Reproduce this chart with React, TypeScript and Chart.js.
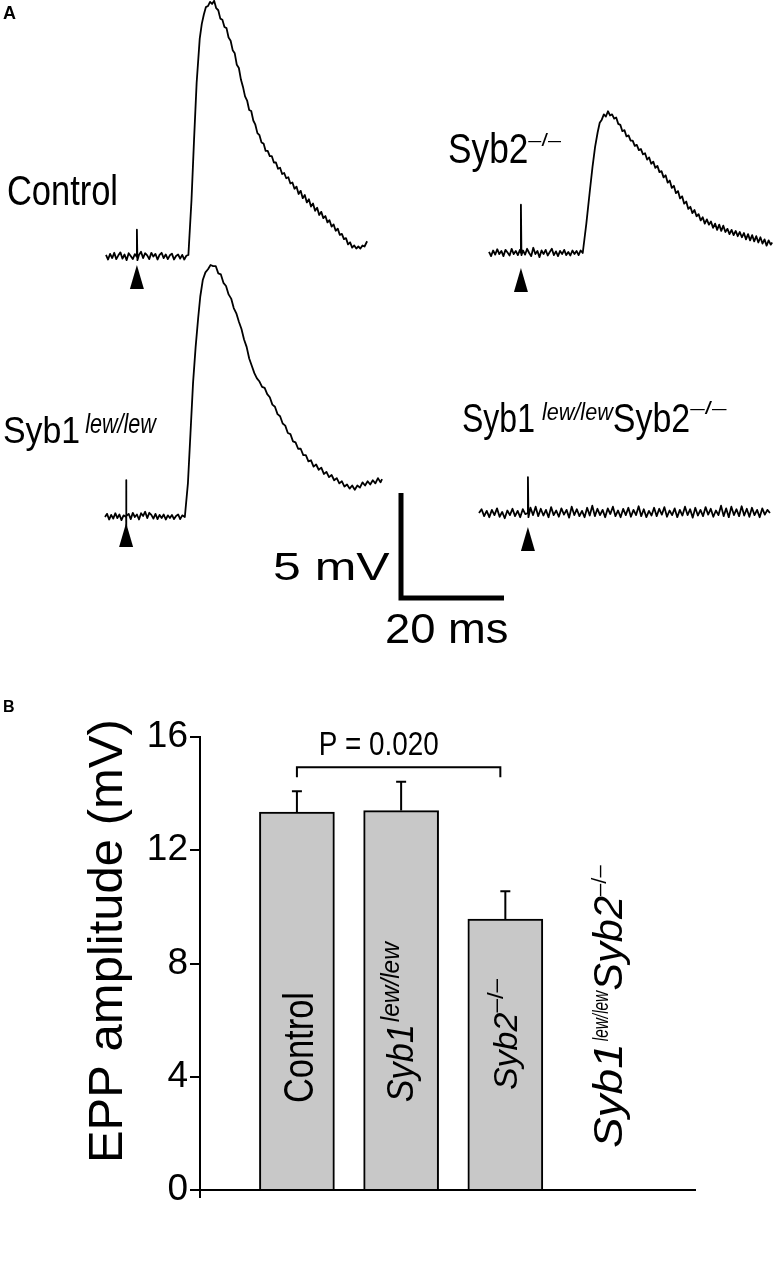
import React, { useEffect, useRef } from 'react';
import { Chart, registerables } from 'chart.js';

Chart.register(...registerables);

const FONT = '"Liberation Sans", Arial, Helvetica, sans-serif';

// ---------------- Panel A data: representative EPP traces (ms, mV) ----------------
const CONTROL_T = [0, 0.4, 0.8, 1.2, 1.6, 2.0, 2.4, 2.8, 3.2, 3.6, 4.0, 4.4, 4.8, 5.2, 5.6, 6.0, 6.0, 6.1, 6.4, 6.8, 7.2, 7.6, 8.0, 8.4, 8.8, 9.2, 9.6, 10.0, 10.4, 10.8, 11.2, 11.6, 12.0, 12.4, 12.8, 13.2, 13.6, 14.0, 14.4, 14.8, 15.2, 15.6, 16.0,
  16.6, 17.1, 17.6, 18.2, 18.6, 19.0, 19.4, 19.8, 20.2, 20.6, 21.0, 21.4, 21.8, 22.2, 22.6, 23.0, 23.4, 23.8, 24.2, 24.6, 25.0, 25.4, 25.8, 26.2, 26.6, 27.0, 27.4, 27.8, 28.2, 28.6, 29.0, 29.4, 29.8, 30.2, 30.6, 31.0, 31.4, 31.8, 32.2, 32.6, 33.0, 33.4, 33.8, 34.2, 34.6, 35.0, 35.4, 35.8, 36.2, 36.6, 37.0, 37.4, 37.8, 38.2, 38.6, 39.0, 39.4, 39.8, 40.2, 40.6, 41.0, 41.4, 41.8, 42.2, 42.6, 43.0, 43.4, 43.8, 44.2, 44.6, 45.0, 45.4, 45.8, 46.2, 46.6, 47.0, 47.4, 47.8, 48.2, 48.6, 49.0, 49.4, 49.8, 50.2, 50.7];
const CONTROL_V = [0.10, -0.12, 0.15, -0.05, 0.20, -0.10, 0.08, 0.22, -0.08, 0.12, -0.15, 0.18, 0.05, -0.10, 0.14, 0.00, 1.30, -0.15, 0.10, 0.25, -0.05, 0.18, 0.08, -0.10, 0.20, 0.02, 0.15, -0.12, 0.10, 0.20, -0.05, 0.12, -0.10, 0.08, 0.16, -0.12, 0.05, 0.12, -0.08, 0.10, -0.12, 0.06, 0.10,
  2.7, 5.6, 8.3, 10.4, 11.1, 11.55, 11.9, 11.95, 12.15, 12.05, 12.2, 11.85, 11.75, 11.35, 11.3, 10.95, 10.9, 10.45, 10.3, 9.85, 9.7, 9.15, 9.0, 8.45, 8.1, 7.65, 7.45, 7.0, 6.95, 6.5, 6.3, 5.9, 5.8, 5.45, 5.4, 5.05, 5.05, 4.8, 4.8, 4.5, 4.5, 4.2, 4.25, 3.95, 4.0, 3.75, 3.8, 3.5, 3.55, 3.25, 3.35, 3.0, 3.15, 2.8, 2.95, 2.6, 2.75, 2.4, 2.55, 2.2, 2.35, 2.0, 2.15, 1.85, 1.95, 1.65, 1.75, 1.45, 1.55, 1.25, 1.35, 1.05, 1.1, 0.85, 0.9, 0.6, 0.7, 0.45, 0.55, 0.4, 0.5, 0.4, 0.55, 0.5, 0.75];

const SYB2_T = [0, 0.4, 0.8, 1.2, 1.6, 2.0, 2.4, 2.8, 3.2, 3.6, 4.0, 4.4, 4.8, 5.2, 5.6, 6.0, 6.2, 6.2, 6.3, 6.6, 7.0, 7.4, 7.8, 8.2, 8.6, 9.0, 9.4, 9.8, 10.2, 10.6, 11.0, 11.4, 11.8, 12.2, 12.6, 13.0, 13.4, 13.8, 14.2, 14.6, 15.0, 15.4, 15.8, 16.2, 16.6, 17.0, 17.4, 17.8, 18.2,
  18.9, 19.6, 20.1, 20.6, 21.1, 21.5, 21.9, 22.3, 22.7, 23.1, 23.5, 23.9, 24.3, 24.7, 25.1, 25.5, 25.9, 26.3, 26.7, 27.1, 27.5, 27.9, 28.3, 28.7, 29.1, 29.5, 29.9, 30.3, 30.7, 31.1, 31.5, 31.9, 32.3, 32.7, 33.1, 33.5, 33.9, 34.3, 34.7, 35.1, 35.5, 35.9, 36.3, 36.7, 37.1, 37.5, 37.9, 38.3, 38.7, 39.1, 39.5, 39.9, 40.3, 40.7, 41.1, 41.5, 41.9, 42.3, 42.7, 43.1, 43.5, 43.9, 44.3, 44.7, 45.1, 45.5, 45.9, 46.3, 46.7, 47.1, 47.5, 47.9, 48.3, 48.7, 49.1, 49.5, 49.9, 50.3, 50.7, 51.1, 51.5, 51.9, 52.3, 52.7, 53.1, 53.5, 53.9, 54.3, 54.7, 55.0];
const SYB2_V = [0.05, -0.15, 0.12, -0.08, 0.18, -0.05, 0.10, -0.15, 0.15, 0.02, -0.12, 0.20, -0.05, 0.10, -0.10, 0.15, 0.0, 2.3, -0.1, 0.12, -0.08, 0.2, 0.0, -0.15, 0.25, -0.05, 0.1, -0.2, 0.12, -0.05, 0.15, -0.12, 0.05, 0.2, -0.1, 0.08, -0.15, 0.1, -0.05, 0.15, -0.1, 0.05, -0.12, 0.12, -0.05, 0.1, -0.1, 0.12, 0.0,
  1.4, 3.0, 4.1, 5.05, 5.75, 6.2, 6.35, 6.6, 6.5, 6.75, 6.55, 6.6, 6.4, 6.45, 6.15, 6.1, 5.8, 5.85, 5.55, 5.6, 5.35, 5.35, 5.1, 5.15, 4.9, 4.95, 4.7, 4.75, 4.45, 4.55, 4.25, 4.35, 4.05, 4.15, 3.85, 3.9, 3.6, 3.7, 3.35, 3.45, 3.1, 3.2, 2.85, 2.95, 2.6, 2.7, 2.35, 2.45, 2.1, 2.2, 1.9, 2.05, 1.75, 1.85, 1.55, 1.7, 1.4, 1.6, 1.35, 1.5, 1.2, 1.4, 1.1, 1.35, 1.05, 1.3, 1.0, 1.15, 0.9, 1.1, 0.85, 1.05, 0.8, 1.0, 0.75, 0.95, 0.65, 0.9, 0.6, 0.85, 0.55, 0.8, 0.5, 0.75, 0.45, 0.65, 0.35, 0.6, 0.4, 0.5];

const SYB1_T = [0, 0.4, 0.8, 1.2, 1.6, 2.0, 2.4, 2.8, 3.2, 3.6, 4.1, 4.1, 4.1, 4.2, 4.6, 5.0, 5.4, 5.8, 6.2, 6.6, 7.0, 7.4, 7.8, 8.2, 8.6, 9.0, 9.4, 9.8, 10.2, 10.6, 11.0, 11.4, 11.8, 12.2, 12.6, 13.0, 13.4, 13.8, 14.2, 14.6, 15.0, 15.5,
  16.1, 16.6, 17.1, 17.6, 18.1, 18.5, 19.0, 19.5, 20.0, 20.5, 21.0, 21.5, 22.0, 22.5, 23.0, 23.5, 24.0, 24.5, 25.0, 25.5, 26.0, 26.5, 27.0, 27.5, 28.0, 28.5, 29.0, 29.5, 30.0, 30.5, 31.0, 31.5, 32.0, 32.5, 33.0, 33.5, 34.0, 34.5, 35.0, 35.5, 36.0, 36.5, 37.0, 37.5, 38.0, 38.5, 39.0, 39.5, 40.0, 40.5, 41.0, 41.5, 42.0, 42.5, 43.0, 43.5, 44.0, 44.5, 45.0, 45.5, 46.0, 46.5, 47.0, 47.5, 48.0, 48.5, 49.0, 49.5, 50.0, 50.5, 51.0, 51.5, 52.0, 52.5, 53.0, 53.5, 53.8];
const SYB1_V = [0.0, 0.15, -0.12, 0.1, -0.08, 0.18, -0.05, 0.12, -0.15, 0.08, 0.0, 1.76, -0.48, 0.05, 0.15, -0.1, 0.2, 0.0, 0.12, -0.12, 0.18, 0.05, 0.25, -0.05, 0.2, 0.1, -0.08, 0.15, -0.1, 0.1, -0.05, 0.12, -0.12, 0.08, -0.05, 0.1, -0.1, 0.05, 0.12, -0.1, 0.08, 0.0,
  1.6, 4.0, 6.4, 8.1, 9.5, 10.5, 11.3, 11.65, 11.8, 12.0, 11.95, 11.95, 11.6, 11.55, 11.15, 11.0, 10.6, 10.4, 9.95, 9.7, 9.3, 8.95, 8.45, 8.1, 7.55, 7.2, 6.85, 6.6, 6.45, 6.2, 6.15, 5.85, 5.7, 5.35, 5.25, 4.9, 4.8, 4.45, 4.35, 4.0, 3.95, 3.6, 3.55, 3.25, 3.25, 2.95, 2.95, 2.65, 2.7, 2.4, 2.5, 2.25, 2.35, 2.05, 2.15, 1.9, 2.0, 1.75, 1.85, 1.6, 1.7, 1.45, 1.55, 1.35, 1.5, 1.3, 1.5, 1.4, 1.65, 1.5, 1.7, 1.55, 1.75, 1.6, 1.85, 1.65, 1.8];

const DKO_T = [0, 0.5, 1.0, 1.5, 2.0, 2.5, 3.0, 3.5, 4.0, 4.5, 5.0, 5.5, 6.0, 6.5, 7.0, 7.5, 8.0, 8.5, 9.0, 9.5, 9.5, 9.6, 10.0, 10.5, 11.0, 11.5, 12.0, 12.5, 13.0, 13.5, 14.0, 14.5, 15.0, 15.5, 16.0, 16.5, 17.0, 17.5, 18.0, 18.5, 19.0, 19.5, 20.0, 20.5, 21.0, 21.5, 22.0, 22.5, 23.0, 23.5, 24.0, 24.5, 25.0, 25.5, 26.0, 26.5, 27.0, 27.5, 28.0, 28.5, 29.0, 29.5, 30.0, 30.5, 31.0, 31.5, 32.0, 32.5, 33.0, 33.5, 34.0, 34.5, 35.0, 35.5, 36.0, 36.5, 37.0, 37.5, 38.0, 38.5, 39.0, 39.5, 40.0, 40.5, 41.0, 41.5, 42.0, 42.5, 43.0, 43.5, 44.0, 44.5, 45.0, 45.5, 46.0, 46.5, 47.0, 47.5, 48.0, 48.5, 49.0, 49.5, 50.0, 50.5, 51.0, 51.5, 52.0, 52.5, 53.0, 53.5, 54.0, 54.5, 55.0, 55.5, 56.0, 56.5];
const DKO_V = [0.0, 0.18, -0.15, 0.1, -0.2, 0.15, -0.1, 0.22, -0.18, 0.05, -0.25, 0.12, -0.1, 0.2, -0.15, 0.1, -0.2, 0.18, -0.05, 0.0, 1.71, -0.2, 0.25, -0.1, 0.3, -0.15, 0.2, -0.12, 0.15, -0.2, 0.28, -0.1, 0.12, -0.18, 0.22, -0.08, 0.15, -0.22, 0.3, -0.1, 0.18, -0.15, 0.1, -0.2, 0.25, -0.12, 0.35, -0.15, 0.2, -0.1, 0.15, -0.2, 0.22, -0.05, 0.3, -0.15, 0.12, -0.2, 0.2, -0.1, 0.25, -0.18, 0.15, -0.1, 0.32, -0.15, 0.18, -0.2, 0.1, -0.12, 0.25, -0.15, 0.2, -0.08, 0.28, -0.18, 0.12, -0.1, 0.22, -0.2, 0.15, -0.12, 0.3, -0.1, 0.18, -0.22, 0.25, -0.12, 0.15, -0.15, 0.28, -0.08, 0.2, -0.18, 0.12, -0.1, 0.35, -0.15, 0.22, -0.2, 0.3, -0.1, 0.18, -0.15, 0.32, -0.12, 0.2, -0.18, 0.25, -0.1, 0.15, -0.2, 0.22, -0.08, 0.15, 0.0];

// stimulus (arrowhead) times, ms, in trace order: Control, Syb2-/-, Syb1 lew/lew, DKO
const STIM_TIMES = [6.0, 6.2, 4.1, 9.5];
const SCALE_BAR_MV = 5;
const SCALE_BAR_MS = 20;

// ---------------- Panel B data ----------------
const GROUPS = ['Control', 'Syb1 lew/lew', 'Syb2 –/–', 'Syb1 lew/lew Syb2 –/–'];
const EPP_MEAN = [13.35, 13.4, 9.57, 0];
const EPP_SEM = [0.73, 1.02, 0.98, 0];
const Y_TICKS = [0, 4, 8, 12, 16];
const Y_TITLE = 'EPP amplitude (mV)';
const P_LABEL = 'P = 0.020';
const P_PAIR = [0, 2];

// ---------------- layout / style ----------------
const PX_PER_MS = 5.15;
const PX_PER_MV = 21;
const A_W = 775;
const A_H = 660;
const TRACE_LAYOUT = [
  { ox: 106, oy: 257, arrow: 8 },
  { ox: 489, oy: 253, arrow: 15 },
  { ox: 105, oy: 517, arrow: 6 },
  { ox: 479, oy: 513, arrow: 14 },
];
const SCALE_BAR_ORIGIN = { ox: 401, oy: 598 };

type Run = { text: string; size: number; italic?: boolean; bold?: boolean; rise?: number; sx?: number; gap?: number };

function drawRuns(ctx: CanvasRenderingContext2D, x: number, y: number, runs: Run[], angle = 0) {
  ctx.save();
  ctx.translate(x, y);
  if (angle) ctx.rotate(angle);
  ctx.fillStyle = '#000';
  ctx.textBaseline = 'alphabetic';
  ctx.textAlign = 'left';
  let cx = 0;
  for (const r of runs) {
    const sx = r.sx ?? 1;
    const gap = r.gap ?? 0;
    ctx.font = `${r.italic ? 'italic ' : ''}${r.bold ? 'bold ' : ''}${r.size}px ${FONT}`;
    ctx.save();
    ctx.translate(cx + gap, -(r.rise ?? 0));
    ctx.scale(sx, 1);
    ctx.fillText(r.text, 0, 0);
    ctx.restore();
    cx += gap + ctx.measureText(r.text).width * sx;
  }
  ctx.restore();
}

const panelAPlugin = {
  id: 'panelAText',
  afterDatasetsDraw(chart: any) {
    const ctx: CanvasRenderingContext2D = chart.ctx;
    // arrowheads marking the stimulus
    STIM_TIMES.forEach((t, k) => {
      const px = chart.scales['x' + k].getPixelForValue(t);
      const py = chart.scales['y' + k].getPixelForValue(0) + TRACE_LAYOUT[k].arrow;
      ctx.save();
      ctx.fillStyle = '#000';
      ctx.beginPath();
      ctx.moveTo(px, py);
      ctx.lineTo(px - 7, py + 24);
      ctx.lineTo(px + 7, py + 24);
      ctx.closePath();
      ctx.fill();
      ctx.restore();
    });
    drawRuns(ctx, 3, 19, [{ text: 'A', size: 18, bold: true }]);
    drawRuns(ctx, 7, 205, [{ text: 'Control', size: 42, sx: 0.82 }]);
    drawRuns(ctx, 448, 163, [
      { text: 'Syb2', size: 43, sx: 0.82 },
      { text: '–/–', size: 18, sx: 1.3, rise: 17 },
    ]);
    drawRuns(ctx, 3, 443, [
      { text: 'Syb1', size: 36, sx: 0.94 },
      { text: 'lew/lew', size: 27, italic: true, sx: 0.8, rise: 10, gap: 5 },
    ]);
    drawRuns(ctx, 462, 432, [
      { text: 'Syb1', size: 40, sx: 0.8 },
      { text: 'lew/lew', size: 24, italic: true, sx: 0.9, rise: 12, gap: 7 },
      { text: 'Syb2', size: 40, sx: 0.85 },
      { text: '–/–', size: 18, sx: 1.45, rise: 18 },
    ]);
    drawRuns(ctx, 273, 580, [{ text: `${SCALE_BAR_MV} mV`, size: 39, sx: 1.28 }]);
    drawRuns(ctx, 385, 643, [{ text: `${SCALE_BAR_MS} ms`, size: 42, sx: 1.08 }]);
  },
};

const BAR_LABELS: { start: number; dx: number; runs: Run[] }[] = [
  { start: 3.07, dx: 16, runs: [{ text: 'Control', size: 42, sx: 0.82 }] },
  { start: 3.1, dx: 12, runs: [
    { text: 'Syb1', size: 36, italic: true, sx: 0.95 },
    { text: 'lew/lew', size: 26, italic: true, sx: 0.94, rise: 14, gap: 2 },
  ] },
  { start: 3.53, dx: 12, runs: [
    { text: 'Syb2', size: 34, italic: true },
    { text: '–/–', size: 22, sx: 1.1, rise: 14 },
  ] },
  { start: 1.48, dx: 12, runs: [
    { text: 'Syb1', size: 40, italic: true, sx: 1.15 },
    { text: 'lew/lew', size: 22, italic: true, sx: 0.7, rise: 14, gap: 2 },
    { text: 'Syb2', size: 40, italic: true, sx: 1.04 },
    { text: '–/–', size: 20, sx: 1.1, rise: 16 },
  ] },
];

const panelBPlugin = {
  id: 'panelBExtras',
  afterDatasetsDraw(chart: any) {
    const ctx: CanvasRenderingContext2D = chart.ctx;
    const x = chart.scales.x;
    const y = chart.scales.y;
    ctx.save();
    ctx.strokeStyle = '#000';
    ctx.lineWidth = 2;
    ctx.lineCap = 'butt';
    // upper error bars
    EPP_MEAN.forEach((m, i) => {
      const s = EPP_SEM[i];
      if (!s) return;
      const px = x.getPixelForValue(i);
      const y0 = y.getPixelForValue(m);
      const y1 = y.getPixelForValue(m + s);
      ctx.beginPath();
      ctx.moveTo(px, y0);
      ctx.lineTo(px, y1);
      ctx.moveTo(px - 5, y1);
      ctx.lineTo(px + 5, y1);
      ctx.stroke();
    });
    // significance bracket
    const xa = x.getPixelForValue(P_PAIR[0]);
    const xb = x.getPixelForValue(P_PAIR[1]) - 5;
    const yb = y.getPixelForValue(14.93);
    const yt = y.getPixelForValue(14.58);
    ctx.beginPath();
    ctx.moveTo(xa, yt);
    ctx.lineTo(xa, yb);
    ctx.lineTo(xb, yb);
    ctx.lineTo(xb, yt);
    ctx.stroke();
    // y axis extends a little below zero
    ctx.beginPath();
    ctx.moveTo(chart.chartArea.left, y.getPixelForValue(0));
    ctx.lineTo(chart.chartArea.left, y.getPixelForValue(0) + 8);
    ctx.stroke();
    ctx.restore();

    drawRuns(ctx, (xa + xb) / 2 - 80, y.getPixelForValue(15.35), [{ text: P_LABEL, size: 34, sx: 0.82 }]);
    BAR_LABELS.forEach((lab, i) => {
      drawRuns(ctx, x.getPixelForValue(i) + lab.dx, y.getPixelForValue(lab.start), lab.runs, -Math.PI / 2);
    });
    // y-axis title
    drawRuns(ctx, 122, y.getPixelForValue(0.95), [{ text: Y_TITLE, size: 49 }], -Math.PI / 2);
    drawRuns(ctx, 3, 52, [{ text: 'B', size: 16, bold: true }]);
  },
};

export default function App() {
  const refA = useRef<HTMLCanvasElement>(null);
  const refB = useRef<HTMLCanvasElement>(null);

  useEffect(() => {
    const traces = [
      { t: CONTROL_T, v: CONTROL_V },
      { t: SYB2_T, v: SYB2_V },
      { t: SYB1_T, v: SYB1_V },
      { t: DKO_T, v: DKO_V },
    ];
    const scalesA: any = {};
    const datasetsA: any[] = [];
    traces.forEach((tr, k) => {
      const L = TRACE_LAYOUT[k];
      scalesA['x' + k] = { type: 'linear', display: false, min: -L.ox / PX_PER_MS, max: (A_W - L.ox) / PX_PER_MS };
      scalesA['y' + k] = { type: 'linear', display: false, min: -(A_H - L.oy) / PX_PER_MV, max: L.oy / PX_PER_MV };
      datasetsA.push({
        label: GROUPS[[0, 2, 1, 3][k]],
        data: tr.t.map((t, j) => ({ x: t, y: tr.v[j] })),
        xAxisID: 'x' + k,
        yAxisID: 'y' + k,
        showLine: true,
        borderColor: '#000',
        borderWidth: 1.8,
        borderJoinStyle: 'round',
        pointRadius: 0,
        tension: 0,
      });
    });
    scalesA.xs = { type: 'linear', display: false, min: -SCALE_BAR_ORIGIN.ox / PX_PER_MS, max: (A_W - SCALE_BAR_ORIGIN.ox) / PX_PER_MS };
    scalesA.ys = { type: 'linear', display: false, min: -(A_H - SCALE_BAR_ORIGIN.oy) / PX_PER_MV, max: SCALE_BAR_ORIGIN.oy / PX_PER_MV };
    datasetsA.push({
      label: 'scale bar',
      data: [{ x: 0, y: SCALE_BAR_MV }, { x: 0, y: 0 }, { x: SCALE_BAR_MS, y: 0 }],
      xAxisID: 'xs',
      yAxisID: 'ys',
      showLine: true,
      borderColor: '#000',
      borderWidth: 5,
      borderJoinStyle: 'miter',
      borderCapStyle: 'butt',
      pointRadius: 0,
      tension: 0,
    });

    const chartA = new Chart(refA.current as HTMLCanvasElement, {
      type: 'scatter',
      data: { datasets: datasetsA },
      options: {
        animation: false,
        responsive: false,
        maintainAspectRatio: false,
        layout: { padding: 0 },
        scales: scalesA,
        plugins: { legend: { display: false }, tooltip: { enabled: false } },
      },
      plugins: [panelAPlugin],
    } as any);

    const chartB = new Chart(refB.current as HTMLCanvasElement, {
      type: 'bar',
      data: {
        datasets: [{
          label: 'EPP amplitude',
          data: GROUPS.map((g, i) => ({ x: i, y: EPP_MEAN[i] })),
          backgroundColor: '#c8c8c8',
          borderColor: '#000',
          borderWidth: 2,
          barThickness: 75,
        }],
      },
      options: {
        animation: false,
        responsive: false,
        maintainAspectRatio: false,
        layout: { padding: { top: 77, bottom: 90, left: 0, right: 80 } },
        scales: {
          x: {
            type: 'linear',
            offset: false,
            min: -0.93,
            max: 3.82,
            ticks: { display: false },
            grid: { display: false, offset: false },
            border: { display: true, color: '#000', width: 2 },
            afterFit: (s: any) => { s.height = 0; },
          },
          y: {
            type: 'linear',
            min: 0,
            max: 16,
            afterBuildTicks: (s: any) => { s.ticks = Y_TICKS.map((v) => ({ value: v })); },
            ticks: { color: '#000', padding: 2, font: { family: FONT, size: 37 } },
            grid: { drawOnChartArea: false, drawTicks: true, tickLength: 10, color: '#000', lineWidth: 2 },
            border: { display: true, color: '#000', width: 2 },
            title: { display: false, text: Y_TITLE },
            afterFit: (s: any) => { s.width = 200; },
          },
        },
        plugins: { legend: { display: false }, tooltip: { enabled: false } },
      },
      plugins: [panelBPlugin],
    } as any);

    return () => {
      chartA.destroy();
      chartB.destroy();
    };
  }, []);

  return (
    <div style={{ position: 'absolute', left: 0, top: 0, width: 775, height: 1280, background: '#fff' }}>
      <canvas ref={refA} width={775} height={660} style={{ position: 'absolute', left: 0, top: 0 }} />
      <canvas ref={refB} width={775} height={620} style={{ position: 'absolute', left: 0, top: 660 }} />
    </div>
  );
}
